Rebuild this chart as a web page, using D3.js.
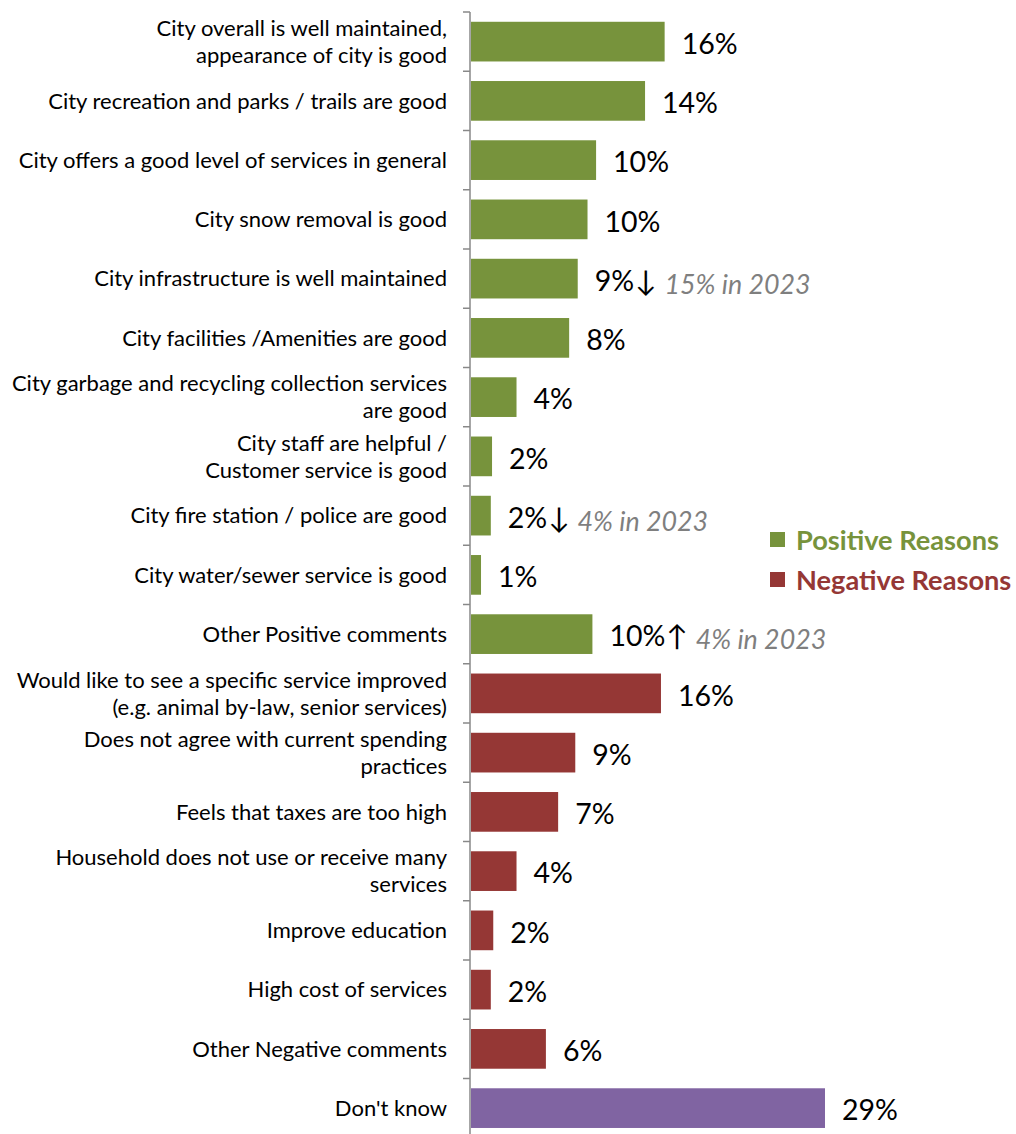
<!DOCTYPE html>
<html>
<head>
<meta charset="utf-8">
<script src="https://cdn.jsdelivr.net/npm/d3@7"></script>
<style>
  body { margin: 0; background: #fff; }
  svg { display: block; font-family: Lato, "Open Sans", sans-serif; }
</style>
</head>
<body>
<svg id="chart"></svg>
<script>
// categories, top to bottom (lines split where the reference wraps)
var categories = [
  ['City overall is well maintained,', 'appearance of city is good'],
  ['City recreation and parks / trails are good'],
  ['City offers a good level of services in general'],
  ['City snow removal is good'],
  ['City infrastructure is well maintained'],
  ['City facilities /Amenities are good'],
  ['City garbage and recycling collection services', 'are good'],
  ['City staff are helpful /', 'Customer service is good'],
  ['City fire station / police are good'],
  ['City water/sewer service is good'],
  ['Other Positive comments'],
  ['Would like to see a specific service improved', '(e.g. animal by-law, senior services)'],
  ['Does not agree with current spending', 'practices'],
  ['Feels that taxes are too high'],
  ['Household does not use or receive many', 'services'],
  ['Improve education'],
  ['High cost of services'],
  ['Other Negative comments'],
  ["Don't know"]
];
var values = [15.9, 14.3, 10.3, 9.6, 8.8, 8.1, 3.8, 1.8, 1.7, 0.9, 10.0,
              15.6, 8.6, 7.2, 3.8, 1.9, 1.7, 6.2, 29.0];
var valueLabels = ['16%','14%','10%','10%','9%','8%','4%','2%','2%','1%','10%',
                   '16%','9%','7%','4%','2%','2%','6%','29%'];
var groups = ['pos','pos','pos','pos','pos','pos','pos','pos','pos','pos','pos',
              'neg','neg','neg','neg','neg','neg','neg','dk'];
// change notes vs 2023: index -> [arrow, note]
var notes = { 4: ['\u2193', '15% in 2023'], 8: ['\u2193', '4% in 2023'], 10: ['\u2191', '4% in 2023'] };
var legendItems = [ { key: 'pos', label: 'Positive Reasons' }, { key: 'neg', label: 'Negative Reasons' } ];

var colors = { pos: '#77933C', neg: '#953735', dk: '#8064A2' };

var width = 1016, height = 1134;
var svg = d3.select('#chart').attr('width', width).attr('height', height);

var x0 = 470;
var x = d3.scaleLinear().domain([0, 29]).range([x0, 825]);
var idx = d3.range(categories.length);
var y = d3.scaleBand().domain(idx).range([12, 12 + 59.25*categories.length]).paddingInner(0.33).paddingOuter(0.165);

/**************************************************************************************/
// axis line + boundary ticks
svg.append('line')
  .attr('x1', x0).attr('x2', x0).attr('y1', 12).attr('y2', height)
  .style('stroke', '#888').style('stroke-width', 1.5);
svg.selectAll('.tick').data(idx.concat([categories.length])).enter().append('line')
  .attr('class', 'tick')
  .attr('x1', x0 - 7).attr('x2', x0)
  .attr('y1', function(i){ return 12 + i*y.step(); })
  .attr('y2', function(i){ return 12 + i*y.step(); })
  .style('stroke', '#888').style('stroke-width', 1.5);

/**************************************************************************************/
// bars
svg.selectAll('.bar').data(idx).enter().append('rect')
  .attr('class', 'bar')
  .attr('x', x0 + 1)
  .attr('y', function(i){ return y(i); })
  .attr('width', function(i){ return x(values[i]) - x0 - 1; })
  .attr('height', y.bandwidth())
  .style('fill', function(i){ return colors[groups[i]]; });

// category labels
var lab = svg.selectAll('.cat').data(idx).enter().append('text')
  .attr('class', 'cat')
  .attr('text-anchor', 'end')
  .style('font-size', '22px').style('fill', '#000');
lab.each(function(i){
  var lines = categories[i];
  var cy = y(i) + y.bandwidth()/2;
  var lh = 27;
  var t = d3.select(this);
  lines.forEach(function(l, k){
    t.append('tspan')
      .attr('x', 447)
      .attr('y', cy + (k - (lines.length-1)/2)*lh)
      .attr('dy', '0.35em')
      .text(l);
  });
});

// value labels
var vl = svg.selectAll('.val').data(idx).enter().append('text')
  .attr('class', 'val')
  .attr('x', function(i){ return x(values[i]) + 17; })
  .attr('y', function(i){ return y(i) + y.bandwidth()/2 + 2; })
  .attr('dy', '0.36em')
  .style('font-size', '28.5px').style('fill', '#000');
vl.append('tspan').text(function(i){ return valueLabels[i]; });
vl.filter(function(i){ return notes[i]; }).append('tspan')
  .attr('dx', 1)
  .text(function(i){ return notes[i][0]; });
vl.filter(function(i){ return notes[i]; }).append('tspan')
  .attr('dx', 8)
  .attr('dy', 3)
  .style('font-size', '26.8px').style('font-style', 'italic').style('fill', '#7F7F7F')
  .text(function(i){ return notes[i][1]; });

/**************************************************************************************/
// legend
var lg = svg.selectAll('.leg').data(legendItems).enter().append('g')
  .attr('class', 'leg')
  .attr('transform', function(d, k){ return 'translate(770,' + (540 + k*40) + ')'; });
lg.append('rect').attr('x', 0).attr('y', -8).attr('width', 15).attr('height', 15)
  .style('fill', function(d){ return colors[d.key]; });
lg.append('text').attr('x', 26).attr('dy', '0.36em')
  .style('font-size', '27.2px').style('font-weight', 'bold')
  .style('fill', function(d){ return colors[d.key]; })
  .text(function(d){ return d.label; });
</script>
</body>
</html>
